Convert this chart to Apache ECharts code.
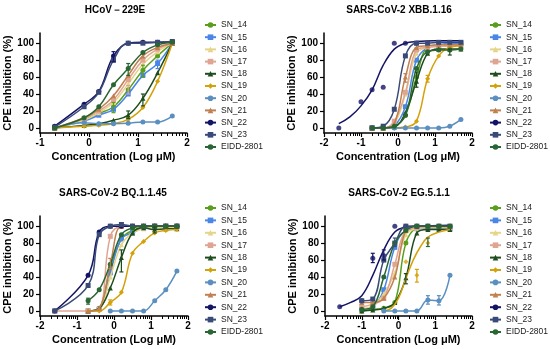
<!DOCTYPE html>
<html><head><meta charset="utf-8">
<script src="https://cdn.jsdelivr.net/npm/echarts@6/dist/echarts.min.js"></script>
<style>html,body{margin:0;padding:0;background:#fff}#c{width:550px;height:349px}</style>
</head><body><div id="c"></div>
<script>
// ---------- DATA ----------
const NAMES = ['SN_14','SN_15','SN_16','SN_17','SN_18','SN_19','SN_20','SN_21','SN_22','SN_23','EIDD-2801'];
const TITLES = ['HCoV－229E','SARS-CoV-2 XBB.1.16','SARS-CoV-2 BQ.1.1.45','SARS-CoV-2 EG.5.1.1'];
const X_TICKS_P1 = [-1,0,1,2];
const X_TICKS_P234 = [-2,-1,0,1,2];
const Y_TICKS = [0,20,40,60,80,100];

// log concentrations (Log µM) per panel
const X_HCOV = [-0.7,-0.1,0.2,0.5,0.8,1.1,1.4,1.7];
const X_XBB  = [-1.6,-1.0,-0.7,-0.4,-0.1,0.2,0.5,0.8,1.1,1.4,1.7];
const X_BQ   = [-1.6,-0.7,-0.4,-0.1,0.2,0.5,0.8,1.1,1.4,1.7];
const X_EG   = [-1.6,-1.0,-0.7,-0.4,-0.1,0.2,0.5,0.8,1.1,1.4];
const n = null;

// CPE inhibition (%) rows in NAMES order
const HCOV = [
  [0,10,17,25,45,68,85,100],
  [0,8,15,22,40,62,76,100],
  [0,9,18,30,52,75,90,100],
  [0,11,20,33,57,80,93,100],
  [0,3,5,9,15,35,65,100],
  [0,2,3,5,10,24,55,100],
  [0,6,5,5,5.5,7,7,14],
  [0,12,22,38,62,85,95,100],
  [2,28,43,85,100,101,101,102],
  [1,25,42,80,100,100,101,102],
  [0,12,25,51,70,89,98,101]
];
const XBB = [
  [n,n,0,0,2,15,60,95,97,97,98],
  [n,n,0,0,3,25,80,95,98,100,100],
  [n,n,0,0,5,40,88,95,97,98,98],
  [n,n,0,0,8,42,92,95,96,97,97],
  [n,n,0,0,1,18,55,88,93,93,93],
  [n,n,0,0,0,1,8,58,85,95,97],
  [n,n,0,0,0,0,0,0,0,2,10],
  [n,n,0,0,5,60,95,97,98,98,98],
  [0,31,45,48,100,100,100,n,n,n,n],
  [n,n,0,2,22,85,100,100,101,101,101],
  [n,n,0,0,2,15,70,90,92,92,93]
];
const BQ = [
  [n,0,3,50,85,95,99,100,100,100],
  [n,0,2,45,85,92,98,100,100,100],
  [n,0,2,40,78,92,97,98,98,98],
  [0,0,2,88,100,100,100,100,100,100],
  [n,0,3,27,63,92,98,96,97,97],
  [n,0,0,10,22,68,82,92,95,96],
  [n,n,n,0,0,0,0,12,25,47],
  [n,0,3,55,100,100,100,100,100,100],
  [0,42,93,100,100,100,100,100,100,100],
  [0,30,90,100,102,100,100,100,100,100],
  [n,12,25,55,90,98,100,100,100,100]
];
const EG = [
  [n,0,2,3,10,80,98,100,100,100],
  [n,2,5,25,75,95,97,97,97,97],
  [n,3,6,20,45,90,97,98,98,98],
  [n,5,8,15,55,95,98,99,99,99],
  [n,0,1,3,10,39,92,96,96,96],
  [n,n,n,n,n,58,42,80,n,n],
  [n,n,n,0,0,0,0,13,12,42],
  [n,10,10,15,40,95,100,100,100,100],
  [5,12,62,65,100,100,100,n,n,n],
  [n,12,14,60,80,100,100,100,100,100],
  [n,2,5,40,80,95,100,100,100,100]
];
// fitted curves where the points scatter around the line
const FIT_XBB_SN22_X = [-1.6,-1.3,-1.0,-0.7,-0.4,-0.1,0.2,0.5,1.0,1.7];
const FIT_XBB_SN22_Y = [5,13,26,45,74,93,100,102,103,103];
const FIT_EG_SN22_X  = [-1.6,-1.3,-1.0,-0.7,-0.4,-0.1,0.2,0.5,1.4];
const FIT_EG_SN22_Y  = [5,10,18,42,72,93,99,100,101];
const FIT_EG_SN19_X  = [-0.4,-0.2,0.0,0.2,0.4,0.6,0.8,1.1,1.4];
const FIT_EG_SN19_Y  = [0,3,15,38,60,76,87,93,96];

// error bars: [series name, log conc, low %, high %]
const ERR_HCOV = [['SN_22',0.5,78,90],['SN_14',0.5,18,30],['EIDD-2801',0.8,62,76],['SN_17',0.8,40,50],['SN_18',0.8,11,20],['SN_14',1.1,60,74],['SN_18',1.1,26,40],['SN_15',1.4,70,80]];
const ERR_XBB  = [['SN_21',0.2,54,64],['SN_18',0.5,48,66],['SN_19',0.8,54,62],['SN_18',1.4,86,93]];
const ERR_BQ   = [['SN_21',-0.1,50,62],['SN_18',0.2,46,72],['EIDD-2801',-0.7,8,15],['SN_19',-0.1,7,13],['SN_18',1.1,92,99]];
const ERR_EG   = [['SN_22',-0.7,57,68],['SN_22',-0.4,60,72],['SN_23',-0.1,76,86],['SN_19',0.5,34,49],['EIDD-2801',0.8,76,86],['SN_18',0.2,32,44],['SN_20',0.8,8,18],['SN_20',1.1,7,18]];

// ---------- STYLE ----------
const COLORS = ['#5a9e1e','#4a86e8','#e6d488','#e0a592','#1d4d1d','#d4a10a','#5b8fc0','#c08050','#141466','#3a4a78','#2a6633'];
const SYMBOLS = ['circle','rect','triangle','rect','triangle','diamond','circle','triangle','circle','rect','circle'];
const FONT = 'Arial, "Liberation Sans", sans-serif';

const panels = [
  {X:X_HCOV, rows:HCOV, err:ERR_HCOV, min:-1, max:2, ticks:X_TICKS_P1, grid:{left:40,top:33,width:147,height:100}, legend:{left:204,top:20,gap:2.2}, title:[115,10], yGap:18, fits:{}},
  {X:X_XBB, rows:XBB, err:ERR_XBB, min:-2, max:2, ticks:X_TICKS_P234, grid:{left:324,top:33,width:148,height:100}, legend:{left:489,top:20,gap:2.2}, title:[399,10], yGap:21, fits:{'SN_22':[FIT_XBB_SN22_X,FIT_XBB_SN22_Y]}},
  {X:X_BQ, rows:BQ, err:ERR_BQ, min:-2, max:2, ticks:X_TICKS_P234, grid:{left:40,top:216,width:148,height:100}, legend:{left:204,top:203,gap:2.4}, title:[113,193], yGap:20, fits:{}},
  {X:X_EG, rows:EG, err:ERR_EG, min:-2, max:2, ticks:X_TICKS_P234, grid:{left:325,top:216,width:147,height:100}, legend:{left:489,top:203,gap:2.4}, title:[399,193], yGap:19, fits:{'SN_22':[FIT_EG_SN22_X,FIT_EG_SN22_Y],'SN_19':[FIT_EG_SN19_X,FIT_EG_SN19_Y]}}
];

function minorTicks(min, max) {
  const out = [];
  for (let d = min; d < max; d++) for (let k = 2; k <= 9; k++) out.push(d + Math.log10(k));
  return out;
}

const grids = [], xAxes = [], yAxes = [], series = [], legends = [], graphics = [];
panels.forEach((p, pi) => {
  grids.push(Object.assign({}, p.grid));
  xAxes.push({
    gridIndex: pi, type:'value', min:p.min, max:p.max, interval:1,
    name:'Concentration (Log μM)', nameLocation:'middle', nameGap:18,
    nameTextStyle:{fontFamily:FONT, fontSize:11, fontWeight:'bold', color:'#000'},
    axisLine:{show:true, onZero:false, lineStyle:{color:'#000', width:1.5}},
    axisTick:{show:true, length:4, lineStyle:{color:'#000', width:1.2}, customValues:p.ticks},
    axisLabel:{fontFamily:FONT, fontSize:10, fontWeight:'bold', color:'#000', margin:5, customValues:p.ticks},
    splitLine:{show:false}
  });
  yAxes.push({
    gridIndex: pi, type:'value', min:-6, max:112,
    name:'CPE inhibition (%)', nameLocation:'middle', nameGap:p.yGap,
    nameTextStyle:{fontFamily:FONT, fontSize:11, fontWeight:'bold', color:'#000'},
    axisLine:{show:true, onZero:false, lineStyle:{color:'#000', width:1.5}},
    axisTick:{show:true, length:4, lineStyle:{color:'#000', width:1.2}, customValues:Y_TICKS},
    axisLabel:{fontFamily:FONT, fontSize:10, fontWeight:'bold', color:'#000', margin:6, customValues:Y_TICKS},
    splitLine:{show:false}
  });
  p.rows.forEach((vals, i) => {
    const name = NAMES[i];
    const pts = p.X.map((x, j) => [x, vals[j]]).filter(d => d[1] != null);
    const fit = p.fits[name];
    if (fit) {
      series.push({type:'line', name:name, xAxisIndex:pi, yAxisIndex:pi,
        data:fit[0].map((x,j)=>[x,fit[1][j]]), smooth:0.4, showSymbol:false, symbol:SYMBOLS[i],
        lineStyle:{width:1.5,color:COLORS[i]}, itemStyle:{color:COLORS[i]}, z:2+i});
      series.push({type:'scatter', name:name, xAxisIndex:pi, yAxisIndex:pi,
        data:pts, symbol:SYMBOLS[i], symbolSize:5, itemStyle:{color:COLORS[i]}, z:2+i});
    } else {
      series.push({type:'line', name:name, xAxisIndex:pi, yAxisIndex:pi,
        data:pts, smooth:0.4, showSymbol:true, symbol:SYMBOLS[i], symbolSize:5,
        lineStyle:{width:1.5,color:COLORS[i]}, itemStyle:{color:COLORS[i]}, z:2+i});
    }
  });
  // error bars
  series.push({
    type:'custom', xAxisIndex:pi, yAxisIndex:pi, z:20, silent:true,
    data:p.err.map(e => [e[1], e[2], e[3], NAMES.indexOf(e[0])]),
    encode:{x:0, y:[1,2]},
    renderItem:function(params, api){
      const lo = api.coord([api.value(0), api.value(1)]);
      const hi = api.coord([api.value(0), api.value(2)]);
      const c = COLORS[api.value(3)];
      const st = {stroke:c, lineWidth:1.2};
      return {type:'group', children:[
        {type:'line', shape:{x1:lo[0],y1:lo[1],x2:hi[0],y2:hi[1]}, style:st},
        {type:'line', shape:{x1:lo[0]-2,y1:lo[1],x2:lo[0]+2,y2:lo[1]}, style:st},
        {type:'line', shape:{x1:hi[0]-2,y1:hi[1],x2:hi[0]+2,y2:hi[1]}, style:st}
      ]};
    }
  });
  legends.push({
    orient:'vertical', left:p.legend.left, top:p.legend.top, padding:0,
    itemWidth:11, itemHeight:7, itemGap:p.legend.gap, selectedMode:false,
    textStyle:{fontFamily:FONT, fontSize:8.5, lineHeight:10, color:'#222'},
    data:NAMES
  });
  graphics.push({type:'text', x:p.title[0], y:p.title[1],
    style:{text:TITLES[pi], fontFamily:FONT, fontSize:10, fontWeight:'bold', fill:'#000', align:'center', verticalAlign:'middle'}});
});

// minor log ticks: overlay grids/axes with identical geometry
panels.forEach((p, pi) => {
  grids.push(Object.assign({}, p.grid));
  const gi = grids.length - 1;
  xAxes.push({
    gridIndex: gi, type:'value', min:p.min, max:p.max, position:'bottom',
    axisLine:{show:false, onZero:false},
    axisTick:{show:true, length:3, lineStyle:{color:'#000', width:1}, customValues:minorTicks(p.min,p.max)},
    axisLabel:{show:false}, splitLine:{show:false}
  });
  yAxes.push({gridIndex: gi, type:'value', min:-6, max:112, show:false});
});

const chart = echarts.init(document.getElementById('c'), null, {renderer:'canvas'});
chart.setOption({
  animation:false,
  backgroundColor:'#fff',
  grid:grids, xAxis:xAxes, yAxis:yAxes, series:series, legend:legends,
  graphic:graphics
});
</script></body></html>
